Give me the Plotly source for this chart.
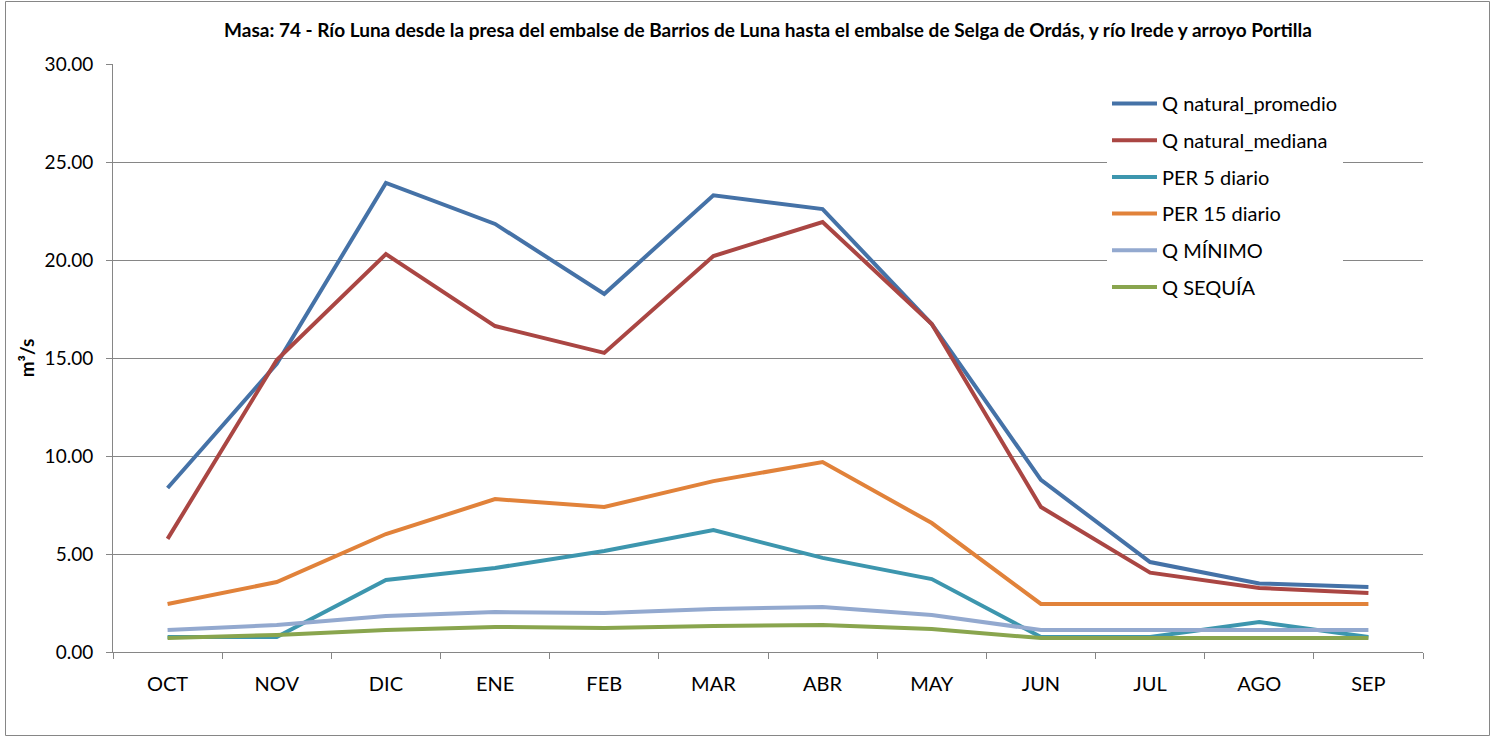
import plotly.graph_objects as go

months = ["OCT", "NOV", "DIC", "ENE", "FEB", "MAR", "ABR", "MAY", "JUN", "JUL", "AGO", "SEP"]
q_promedio = [8.37, 14.70, 23.93, 21.84, 18.27, 23.30, 22.60, 16.73, 8.78, 4.59, 3.50, 3.32]
q_mediana = [5.77, 14.90, 20.30, 16.63, 15.26, 20.20, 21.94, 16.73, 7.40, 4.05, 3.27, 3.01]
per5 = [0.77, 0.77, 3.67, 4.29, 5.15, 6.22, 4.80, 3.72, 0.77, 0.77, 1.53, 0.77]
per15 = [2.45, 3.57, 6.02, 7.80, 7.40, 8.72, 9.69, 6.58, 2.45, 2.45, 2.45, 2.45]
q_minimo = [1.12, 1.38, 1.84, 2.04, 1.99, 2.19, 2.30, 1.89, 1.12, 1.12, 1.12, 1.12]
q_sequia = [0.71, 0.87, 1.12, 1.28, 1.22, 1.33, 1.38, 1.17, 0.71, 0.71, 0.71, 0.71]

series = [
    ("Q natural_promedio", q_promedio, "#4572A7"),
    ("Q natural_mediana", q_mediana, "#AA4643"),
    ("PER 5 diario", per5, "#3D96AE"),
    ("PER 15 diario", per15, "#E1823A"),
    ("Q MÍNIMO", q_minimo, "#93A9CF"),
    ("Q SEQUÍA", q_sequia, "#89A54E"),
]

FONT = "Lato, 'Liberation Sans', sans-serif"

fig = go.Figure()
for i, (name, vals, col) in enumerate(series):
    fig.add_trace(go.Scatter(
        x=months, y=vals, name=name, mode="lines",
        line=dict(color=col, width=4),
        legendgroup=f"g{i}",
    ))

L, R, T, B = 113, 75, 64, 86
W, H = 1498, 738
pw, ph = W - L - R, H - T - B

def px2x(px):
    return (px - L) / pw

def px2y(py):
    return (H - B - py) / ph

fig.update_layout(
    width=W, height=H,
    margin=dict(l=L, r=R, t=T, b=B),
    paper_bgcolor="white", plot_bgcolor="white",
    font=dict(family=FONT, size=19, color="#000000"),
    title=dict(
        text="<b>Masa: 74 - Río Luna desde la presa del embalse de Barrios de Luna hasta el embalse de Selga de Ordás, y río Irede y arroyo Portilla</b>",
        x=0.5, xref="paper", xanchor="center",
        y=1 - 30 / H, yanchor="middle",
        font=dict(family=FONT, size=19, color="#000000"),
    ),
    showlegend=True,
    legend=dict(
        x=px2x(1107), y=px2y(84), xanchor="left", yanchor="top",
        bgcolor="white", borderwidth=0,
        font=dict(family=FONT, size=20, color="#000000"),
        tracegroupgap=7.7, itemwidth=45,
    ),
    xaxis=dict(
        type="category", showgrid=False,
        showline=True, linecolor="#868686", linewidth=1,
        ticks="outside", tickson="boundaries", ticklen=6, tickcolor="#868686",
        tickfont=dict(family=FONT, size=20, color="#000000"),
        ticklabelstandoff=14,
        range=[-0.5, 11.5],
    ),
    yaxis=dict(
        range=[0, 30], tickmode="array",
        tickvals=[0, 5, 10, 15, 20, 25, 30], tickformat=".2f",
        showgrid=True, gridcolor="#868686", gridwidth=1,
        showline=True, linecolor="#868686", linewidth=1,
        ticks="outside", ticklen=6, tickcolor="#868686",
        tickfont=dict(family=FONT, size=19, color="#000000"),
        ticklabelstandoff=9,
        title=dict(text="<b>m³/s</b>", font=dict(family=FONT, size=19, color="#000000"), standoff=4),
        zeroline=False,
    ),
)

fig.add_shape(
    type="rect", xref="paper", yref="paper",
    x0=px2x(5.5), x1=px2x(1489.5), y0=px2y(735.5), y1=px2y(1.5),
    line=dict(color="#868686", width=1), fillcolor="rgba(0,0,0,0)", layer="below",
)

fig.write_html("out.html")
